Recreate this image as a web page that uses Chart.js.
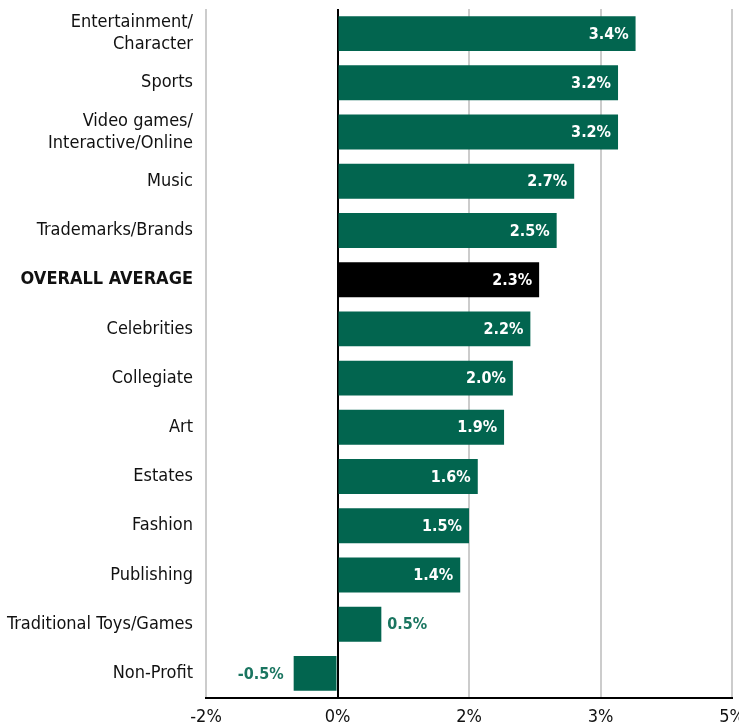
<!DOCTYPE html>
<html>
<head>
<meta charset="utf-8">
<script src="https://cdn.jsdelivr.net/npm/chart.js@4"></script>
<style>
  html, body { margin: 0; padding: 0; background: #fff; }
  #wrap { width: 739px; height: 725px; }
</style>
</head>
<body>
<div id="wrap"><canvas id="chart" width="739" height="725"></canvas></div>
<script>
// growth by property type
const categories = [
  ['Entertainment/', 'Character'],
  'Sports',
  ['Video games/', 'Interactive/Online'],
  'Music',
  'Trademarks/Brands',
  'OVERALL AVERAGE',
  'Celebrities',
  'Collegiate',
  'Art',
  'Estates',
  'Fashion',
  'Publishing',
  'Traditional Toys/Games',
  'Non-Profit'
]
const growth = [3.4, 3.2, 3.2, 2.7, 2.5, 2.3, 2.2, 2.0, 1.9, 1.6, 1.5, 1.4, 0.5, -0.5]
const tickValues = [-1.5, 0, 1.5, 3, 4.5]
const tickLabels = ['-2%', '0%', '2%', '3%', '5%']
const averageIndex = 5

const GREEN = '#02654f'
const FONT = '"DejaVu Sans Condensed", "Liberation Sans", sans-serif'

const barColors = growth.map((v, i) => i === averageIndex ? '#000000' : GREEN)

// value labels: white inside long bars, green outside short ones
const valueLabels = {
  id: 'valueLabels',
  afterDatasetsDraw (chart) {
    const ctx = chart.ctx
    const meta = chart.getDatasetMeta(0)
    ctx.save()
    ctx.font = `bold 16px ${FONT}`
    ctx.textBaseline = 'middle'
    meta.data.forEach((bar, i) => {
      const v = growth[i]
      const text = v.toFixed(1) + '%'
      if (Math.abs(v) >= 1) {
        ctx.fillStyle = '#ffffff'
        ctx.textAlign = 'right'
        ctx.fillText(text, bar.x - 7, bar.y + 1)
      } else if (v >= 0) {
        ctx.fillStyle = '#1a7560'
        ctx.textAlign = 'left'
        ctx.fillText(text, bar.x + 6, bar.y + 1)
      } else {
        ctx.fillStyle = '#1a7560'
        ctx.textAlign = 'right'
        ctx.fillText(text, bar.x - 10, bar.y + 1)
      }
    })
    ctx.restore()
  }
}

new Chart(document.getElementById('chart'), {
  type: 'bar',
  data: {
    labels: categories,
    datasets: [{
      data: growth,
      backgroundColor: barColors,
      borderWidth: 0,
      barPercentage: 0.71,
      categoryPercentage: 1
    }]
  },
  options: {
    indexAxis: 'y',
    responsive: false,
    animation: false,
    layout: { autoPadding: false, padding: { top: 9, right: 7, bottom: 0, left: 0 } },
    plugins: { legend: { display: false }, tooltip: { enabled: false } },
    scales: {
      x: {
        min: -1.5,
        max: 4.5,
        afterBuildTicks: (scale) => { scale.ticks = tickValues.map(v => ({ value: v })) },
        afterFit: (scale) => {
          scale.height = 27
          scale.paddingLeft = 0
          scale.paddingRight = 0
        },
        grid: {
          drawTicks: false,
          color: (c) => c.tick && c.tick.value === 0 ? '#000000' : '#cccccc',
          lineWidth: 2
        },
        border: { display: true, color: '#000000', width: 2 },
        ticks: {
          padding: 9,
          color: '#111111',
          font: { family: FONT, size: 18 },
          maxRotation: 0,
          callback: (v, i) => tickLabels[i]
        }
      },
      y: {
        afterFit: (scale) => {
          scale.width = 206
          scale.paddingTop = 0
          scale.paddingBottom = 0
        },
        grid: { display: false, drawTicks: false },
        border: { display: false },
        ticks: {
          padding: 13,
          color: '#111111',
          font: (c) => c.index === averageIndex
            ? { family: FONT, size: 18, weight: 'bold' }
            : { family: FONT, size: 18 }
        }
      }
    }
  },
  plugins: [valueLabels]
})
</script>
</body>
</html>
